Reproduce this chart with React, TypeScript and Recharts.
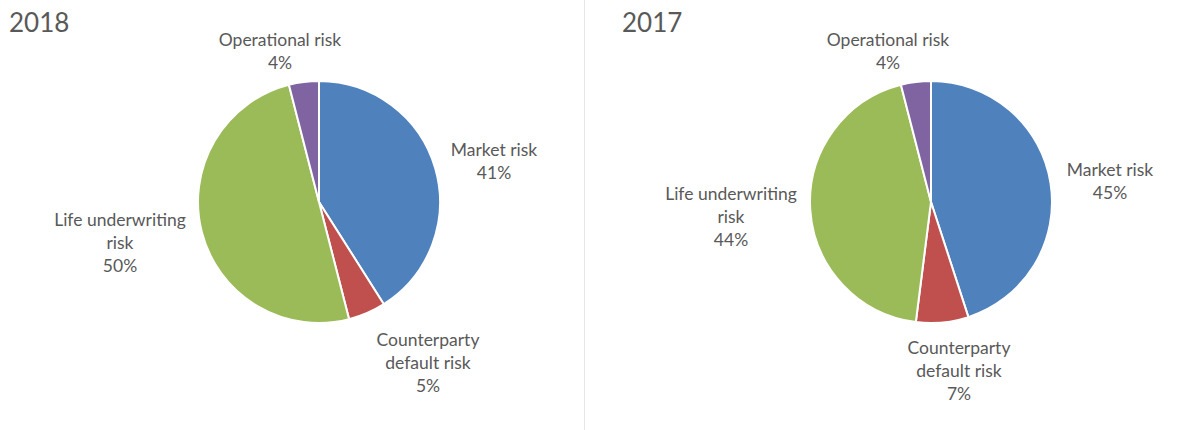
import React from "react";
import { PieChart, Pie, Cell } from "recharts";

const categories = ["Market risk", "Counterparty default risk", "Life underwriting risk", "Operational risk"];
const values2018 = [41, 5, 50, 4];
const values2017 = [45, 7, 44, 4];
const years = ["2018", "2017"];

const COLORS = ["#4F81BD", "#C0504D", "#9BBB59", "#8064A2"];
const TEXT = "#595959";
const FONT = "Lato, 'Open Sans', sans-serif";

// how each category name breaks over lines in the labels
const LABEL_LINES: Record<string, string[]> = {
  "Market risk": ["Market risk"],
  "Counterparty default risk": ["Counterparty", "default risk"],
  "Life underwriting risk": ["Life underwriting", "risk"],
  "Operational risk": ["Operational risk"],
};

// label block centre offsets from the pie centre (layout only)
const OFFSETS_2018: Record<string, [number, number]> = {
  "Market risk": [175, -42],
  "Counterparty default risk": [109, 160],
  "Life underwriting risk": [-199, 40],
  "Operational risk": [-39, -152],
};
const OFFSETS_2017: Record<string, [number, number]> = {
  "Market risk": [179, -22],
  "Counterparty default risk": [28, 168],
  "Life underwriting risk": [-200, 14],
  "Operational risk": [-43, -152],
};

const data2018 = categories.map((name, i) => ({ name, value: values2018[i] }));
const data2017 = categories.map((name, i) => ({ name, value: values2017[i] }));

const LINE_H = 23;

const makeLabel = (offsets: Record<string, [number, number]>) => (props: any) => {
  const { cx, cy, name, value, index } = props;
  const off = offsets[name] || [0, 0];
  const lines = [...(LABEL_LINES[name] || [name]), `${value}%`];
  const x = cx + off[0];
  const y0 = cy + off[1] - ((lines.length - 1) * LINE_H) / 2;
  return (
    <text
      key={`lbl-${index}`}
      x={x}
      y={y0}
      textAnchor="middle"
      dominantBaseline="central"
      fill={TEXT}
      fontSize={17.5}
      fontFamily={FONT}
    >
      {lines.map((l, k) => (
        <tspan key={k} x={x} y={y0 + k * LINE_H}>
          {l}
        </tspan>
      ))}
    </text>
  );
};

export default function App() {
  return (
    <div
      style={{
        position: "absolute",
        left: 0,
        top: 0,
        width: 1192,
        height: 430,
        background: "#fff",
        overflow: "hidden",
      }}
    >
      <div
        style={{
          position: "absolute",
          left: 9,
          top: 6,
          fontFamily: FONT,
          fontSize: 26,
          color: TEXT,
        }}
      >
        {years[0]}
      </div>
      <div
        style={{
          position: "absolute",
          left: 622,
          top: 6,
          fontFamily: FONT,
          fontSize: 26,
          color: TEXT,
        }}
      >
        {years[1]}
      </div>
      <div
        style={{
          position: "absolute",
          left: 584,
          top: 0,
          width: 1,
          height: 430,
          background: "#E6E6E6",
        }}
      />
      <div style={{ position: "absolute", left: 0, top: 0 }}>
        <PieChart width={1192} height={430} margin={{ top: 0, right: 0, bottom: 0, left: 0 }}>
          <Pie
            data={data2018}
            dataKey="value"
            nameKey="name"
            cx={319}
            cy={202}
            outerRadius={121}
            startAngle={90}
            endAngle={-270}
            stroke="#fff"
            strokeWidth={2}
            labelLine={false}
            label={makeLabel(OFFSETS_2018)}
            isAnimationActive={false}
          >
            {data2018.map((d, i) => (
              <Cell key={d.name} fill={COLORS[i]} />
            ))}
          </Pie>
          <Pie
            data={data2017}
            dataKey="value"
            nameKey="name"
            cx={931}
            cy={202}
            outerRadius={121}
            startAngle={90}
            endAngle={-270}
            stroke="#fff"
            strokeWidth={2}
            labelLine={false}
            label={makeLabel(OFFSETS_2017)}
            isAnimationActive={false}
          >
            {data2017.map((d, i) => (
              <Cell key={d.name} fill={COLORS[i]} />
            ))}
          </Pie>
        </PieChart>
      </div>
    </div>
  );
}
